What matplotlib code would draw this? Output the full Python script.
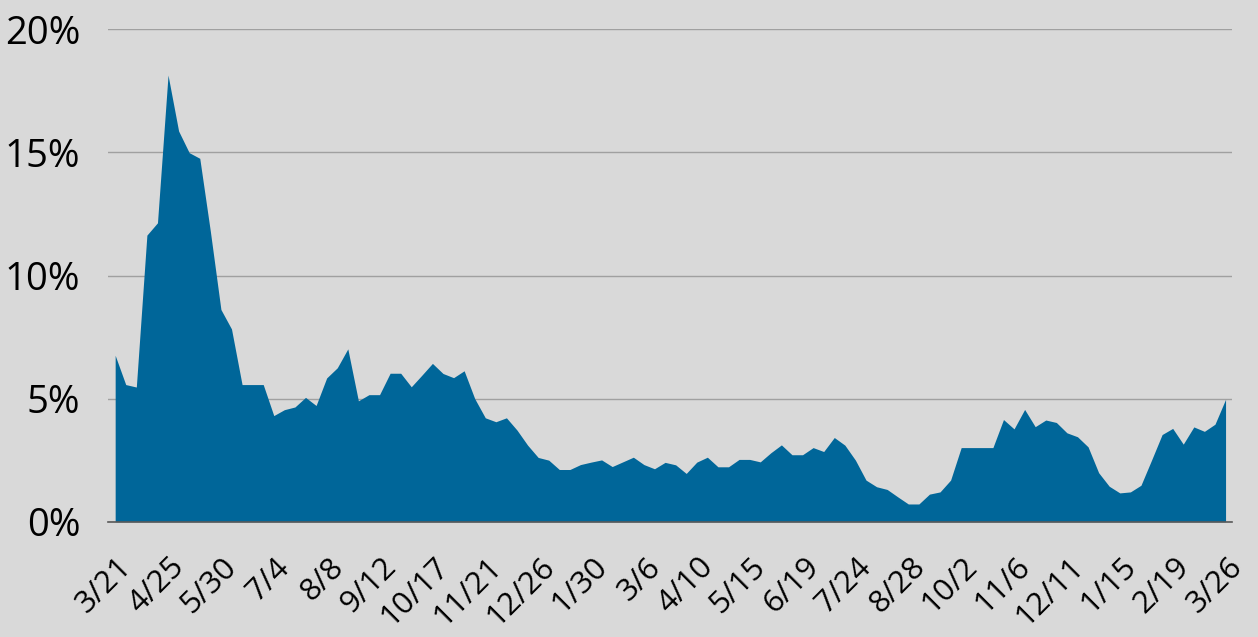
import matplotlib
matplotlib.use("Agg")
import matplotlib.pyplot as plt
import matplotlib.transforms as mtransforms
import numpy as np

plt.rcParams['font.family'] = ['Open Sans', 'DejaVu Sans']

# weekly share (%), 3/21 through 3/26 two years later
share = [6.76, 5.57, 5.47, 11.64, 12.14, 18.14, 15.87, 14.99, 14.76, 11.8,
         8.62, 7.83, 5.57, 5.57, 5.57, 4.31, 4.55, 4.66, 5.05, 4.72,
         5.84, 6.25, 7.02, 4.91, 5.16, 5.16, 6.03, 6.03, 5.48, 5.95,
         6.43, 6.02, 5.85, 6.13, 5.0, 4.22, 4.06, 4.22, 3.72, 3.11,
         2.61, 2.50, 2.12, 2.12, 2.32, 2.42, 2.51, 2.24, 2.43, 2.62,
         2.32, 2.15, 2.41, 2.31, 1.96, 2.42, 2.62, 2.23, 2.23, 2.53,
         2.53, 2.43, 2.80, 3.12, 2.72, 2.72, 3.01, 2.85, 3.42, 3.11,
         2.50, 1.69, 1.42, 1.31, 1.01, 0.72, 0.72, 1.12, 1.21, 1.69,
         3.01, 3.01, 3.01, 3.01, 4.15, 3.77, 4.56, 3.86, 4.13, 4.03,
         3.61, 3.45, 3.04, 1.99, 1.44, 1.17, 1.21, 1.48, 2.50, 3.54,
         3.79, 3.15, 3.85, 3.67, 3.96, 4.97]

# one label every 5 weeks
tick_labels = ['3/21', '4/25', '5/30', '7/4', '8/8', '9/12', '10/17', '11/21',
               '12/26', '1/30', '3/6', '4/10', '5/15', '6/19', '7/24', '8/28',
               '10/2', '11/6', '12/11', '1/15', '2/19', '3/26']
y_ticks = [0, 5, 10, 15, 20]

bg = '#d9d9d9'
fig = plt.figure(figsize=(12.58, 6.37), dpi=100, facecolor=bg)
ax = fig.add_axes([0.086, 0.181, 0.893, 0.773], facecolor=bg)

x = np.arange(len(share))
ax.fill_between(x, 0, share, color='#006699', lw=0, zorder=2)

ax.set_xlim(-0.66, len(share) - 1 + 0.57)
ax.set_ylim(0, 20)
ax.set_yticks(y_ticks)
ax.set_yticklabels([f'{v}%' for v in y_ticks], fontsize=27.5)
ax.yaxis.grid(True, color='#a0a0a0', lw=1, zorder=1)
ax.tick_params(axis='y', length=0, pad=20)

ax.set_xticks(x[::5])
ax.set_xticklabels(tick_labels, fontsize=22.5, rotation=45, ha='right',
                   va='center', rotation_mode='anchor')
ax.tick_params(axis='x', length=0, pad=0)
# push the rotated labels down/right like the original
offset = mtransforms.ScaledTranslation(12 / 100, -41 / 100, fig.dpi_scale_trans)
for lbl in ax.get_xticklabels():
    lbl.set_transform(lbl.get_transform() + offset)

for side in ['top', 'right', 'left']:
    ax.spines[side].set_visible(False)
ax.spines['bottom'].set_color('#595959')
ax.spines['bottom'].set_linewidth(1.2)
ax.spines['bottom'].set_zorder(3)

fig.savefig('out.png', dpi=100, facecolor=bg)
